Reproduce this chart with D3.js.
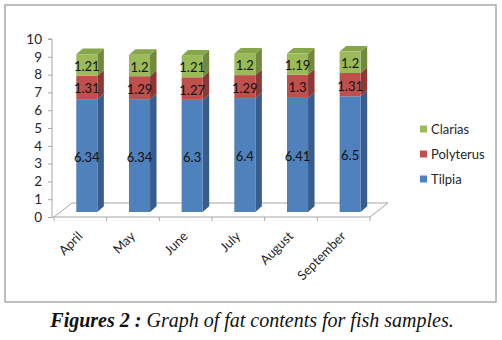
<!DOCTYPE html>
<html>
<head>
<meta charset="utf-8">
<script src="https://cdn.jsdelivr.net/npm/d3@7"></script>
<style>
  html, body { margin: 0; padding: 0; background: #fff; }
  svg { display: block; }
</style>
</head>
<body>
<svg id="chart" width="502" height="340"></svg>
<script>
// Monthly fat content per fish species (stacked)
const months = ["April", "May", "June", "July", "August", "September"];
const tilpia = [6.34, 6.34, 6.3, 6.4, 6.41, 6.5];
const polyterus = [1.31, 1.29, 1.27, 1.29, 1.3, 1.31];
const clarias = [1.21, 1.2, 1.21, 1.2, 1.19, 1.2];
const seriesNames = ["Tilpia", "Polyterus", "Clarias"];
const yTicks = [0, 1, 2, 3, 4, 5, 6, 7, 8, 9, 10];

const palette = {
  Tilpia:    { front: "#4F81BD", side: "#385D8A", top: "#4A78AE" },
  Polyterus: { front: "#C0504D", side: "#8C3836", top: "#B04A47" },
  Clarias:   { front: "#9BBB59", side: "#71893F", top: "#86A64A" }
};

const svg = d3.select("#chart");
const font = "Lato, 'Open Sans', 'DejaVu Sans', sans-serif";

// outer frame
svg.append("rect")
  .attr("x", 5).attr("y", 5).attr("width", 491).attr("height", 297)
  .attr("fill", "#fff").attr("stroke", "#a9a9a9").attr("stroke-width", 1.5);

// scales
const x = d3.scaleBand().domain(months).range([54, 370]);
const y = d3.scaleLinear().domain([0, 10]).range([217, 39]);

// oblique depth of the floor and of the columns
const floorDepth = { dx: 18, dy: -14 };
const barShift = { dx: 6.5, dy: -5 };
const barDepth = { dx: 6.5, dy: -5.7 };
const barWidth = x.bandwidth() * 0.4;

// floor outline
const x0 = x.range()[0], x1 = x.range()[1], yf = y(0);
svg.append("path")
  .attr("d", `M${x0},${yf} L${x0 + floorDepth.dx},${yf + floorDepth.dy} L${x1 + floorDepth.dx},${yf + floorDepth.dy} L${x1},${yf}`)
  .attr("fill", "none").attr("stroke", "#a6a6a6").attr("stroke-width", 1);

// category axis (front edge) with ticks at band boundaries
svg.append("line")
  .attr("x1", x0 - 2).attr("x2", x1).attr("y1", yf).attr("y2", yf)
  .attr("stroke", "#a6a6a6").attr("stroke-width", 1);
const bounds = months.map(m => x(m)).concat([x1]);
svg.selectAll(".xtick").data(bounds).enter().append("line")
  .attr("x1", d => d).attr("x2", d => d)
  .attr("y1", yf).attr("y2", yf + 4)
  .attr("stroke", "#a6a6a6");

// value axis
const yAxis = d3.axisLeft(y).tickValues(yTicks).tickSize(4).tickPadding(6);
const gy = svg.append("g").attr("transform", "translate(52,0)").call(yAxis);
gy.select(".domain").attr("stroke", "#a6a6a6").attr("d", `M-4,${y(10)}H0V${y(0)}`);
gy.selectAll(".tick line").attr("stroke", "#a6a6a6");
gy.selectAll(".tick text")
  .attr("font-family", font).attr("font-size", 13.5).attr("fill", "#262626");

// stacked data
const rows = months.map((m, i) => ({ month: m, Tilpia: tilpia[i], Polyterus: polyterus[i], Clarias: clarias[i] }));
const stacked = d3.stack().keys(seriesNames)(rows);

// bars as oblique boxes
const gBars = svg.append("g");
months.forEach((m, i) => {
  const left = x(m) + x.bandwidth() / 2 - barWidth / 2 + barShift.dx;
  const right = left + barWidth;
  stacked.forEach((layer, li) => {
    const name = layer.key;
    const c = palette[name];
    const yb = y(layer[i][0]) + barShift.dy;
    const yt = y(layer[i][1]) + barShift.dy;
    const g = gBars.append("g");
    // side face
    g.append("path")
      .attr("d", `M${right},${yb} L${right + barDepth.dx},${yb + barDepth.dy} L${right + barDepth.dx},${yt + barDepth.dy} L${right},${yt} Z`)
      .attr("fill", c.side);
    // top face (only visible on the last layer)
    if (li === stacked.length - 1) {
      g.append("path")
        .attr("d", `M${left},${yt} L${left + barDepth.dx},${yt + barDepth.dy} L${right + barDepth.dx},${yt + barDepth.dy} L${right},${yt} Z`)
        .attr("fill", c.top);
    }
    // front face
    g.append("rect")
      .attr("x", left).attr("y", yt).attr("width", barWidth).attr("height", yb - yt)
      .attr("fill", c.front);
    // value label
    g.append("text")
      .attr("x", left + barWidth / 2).attr("y", (yb + yt) / 2 + 1)
      .attr("text-anchor", "middle").attr("dominant-baseline", "central")
      .attr("font-family", font).attr("font-size", 13).attr("fill", "#111")
      .text(layer[i].data[name]);
  });
});

// rotated month labels
svg.selectAll(".xlab").data(months).enter().append("text")
  .attr("transform", d => `translate(${x(d) + x.bandwidth() / 2 + 3},${yf + 20}) rotate(-45)`)
  .attr("text-anchor", "end")
  .attr("font-family", font).attr("font-size", 13).attr("fill", "#262626")
  .text(d => d);

// legend
const legendItems = ["Clarias", "Polyterus", "Tilpia"];
const lg = svg.append("g");
legendItems.forEach((name, i) => {
  const cy = 129 + i * 25;
  lg.append("rect").attr("x", 420).attr("y", cy - 3.5).attr("width", 7).attr("height", 7)
    .attr("fill", palette[name].front);
  lg.append("text").attr("x", 431).attr("y", cy).attr("dominant-baseline", "central")
    .attr("font-family", font).attr("font-size", 13).attr("fill", "#262626").text(name);
});

// caption
const cap = svg.append("text")
  .attr("x", 252).attr("y", 327).attr("text-anchor", "middle")
  .attr("font-family", "\"Liberation Serif\", \"DejaVu Serif\", serif")
  .attr("font-size", 20).attr("font-style", "italic").attr("fill", "#111");
cap.append("tspan").attr("font-weight", "bold").text("Figures 2");
cap.append("tspan").attr("font-weight", "bold").text(" : ");
cap.append("tspan").text("Graph of fat contents for fish samples.");
</script>
</body>
</html>
